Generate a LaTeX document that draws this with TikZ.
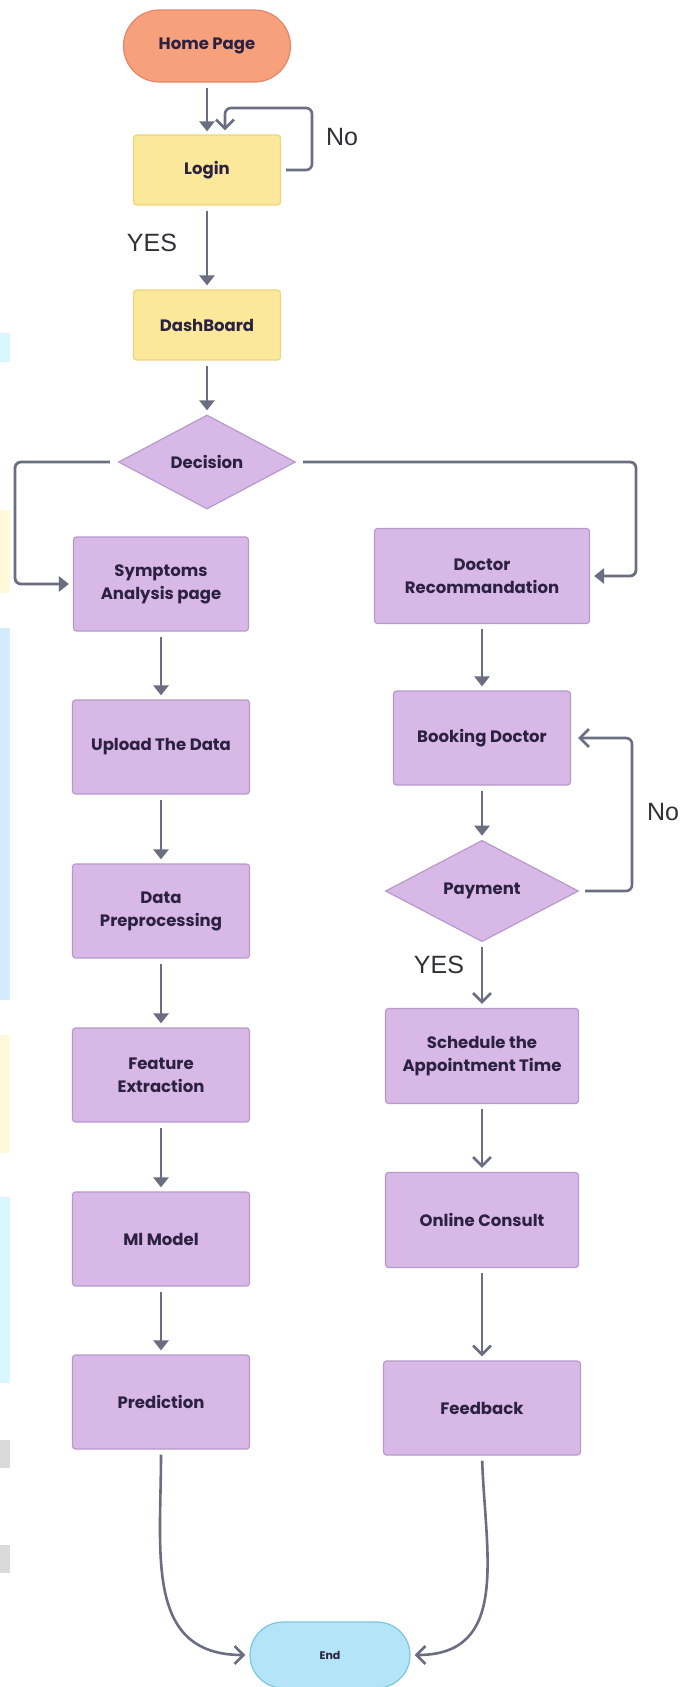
\documentclass[tikz,border=0pt]{standalone}
\usepackage{fontspec}
\setmainfont{Poppins}
\newfontfamily\lblfont{Liberation Sans}
\usepackage{xcolor}
\usetikzlibrary{arrows.meta,positioning,shapes.geometric}
\definecolor{homef}{HTML}{F7A07C}
\definecolor{homed}{HTML}{E3876A}
\definecolor{yelf}{HTML}{FBE89B}
\definecolor{yeld}{HTML}{EDD57F}
\definecolor{purf}{HTML}{D8B8E7}
\definecolor{purd}{HTML}{B79ACA}
\definecolor{endf}{HTML}{B4E4F8}
\definecolor{endd}{HTML}{7CC6E0}
\definecolor{arc}{HTML}{6B6D80}
\definecolor{txtc}{HTML}{2A2240}
\definecolor{lblc}{HTML}{303036}
\definecolor{edgeb}{HTML}{D2ECFB}
\definecolor{edgec}{HTML}{D9F7FE}
\definecolor{edgey}{HTML}{FFF9DA}
\definecolor{edgeg}{HTML}{DADADA}
\tikzset{
  ar/.style={-{Triangle[length=10pt,width=15pt]},line width=2.8pt,arc,shorten <=5pt,shorten >=4pt},
  arv/.style={-{Straight Barb[length=9pt,width=18pt]},line width=2.6pt,arc,shorten <=5pt,shorten >=4pt},
  nd/.style={font=\fontsize{16.5}{23}\selectfont\bfseries,text=txtc,align=center,line width=1.2pt,inner sep=2pt},
  box/.style={nd,draw=purd,fill=purf,rounded corners=3pt,minimum width=177pt,minimum height=94pt},
  ybox/.style={nd,draw=yeld,fill=yelf,rounded corners=3pt,minimum width=147pt,minimum height=70pt},
  dia/.style={nd,diamond,draw=purd,fill=purf,minimum width=177pt,minimum height=94pt},
  lbl/.style={font=\lblfont\fontsize{25}{28}\selectfont,text=lblc}
}
\begin{document}
\begin{tikzpicture}[x=1pt,y=-1pt]
\useasboundingbox (0,0) rectangle (690,1687);
\clip (0,0) rectangle (690,1687);
% background bits at the left edge
\fill[edgec] (0,333) rectangle (10,362);
\fill[edgey] (0,510) rectangle (10,593);
\fill[edgeb] (0,628) rectangle (10,1000);
\fill[edgey] (0,1035) rectangle (10,1153);
\fill[edgec] (0,1197) rectangle (10,1383);
\fill[edgeg] (0,1440) rectangle (10,1468);
\fill[edgeg] (0,1545) rectangle (10,1573);
% top part
\node[nd,draw=homed,fill=homef,rounded corners=36pt,minimum width=167pt,minimum height=72pt] (home) at (207,46) {Home Page};
\node[ybox] (login) at (207,170) {Login};
\node[ybox] (dash) at (207,325) {DashBoard};
\node[dia] (dec) at (207,462) {Decision};
% left branch
\node[box,minimum width=175pt] (symp) at (161,584) {Symptoms\\Analysis page};
\node[box] (upload) at (161,747) {Upload The Data};
\node[box] (prep) at (161,911) {Data\\Preprocessing};
\node[box] (feat) at (161,1075) {Feature\\Extraction};
\node[box] (ml) at (161,1239) {Ml Model};
\node[box] (pred) at (161,1402) {Prediction};
% right branch
\node[box,minimum width=215pt,minimum height=95pt] (doc) at (482,576) {Doctor\\Recommandation};
\node[box] (book) at (482,738) {Booking Doctor};
\node[dia,minimum width=193pt] (pay) at (482,891) {Payment};
\node[box,minimum width=193pt,minimum height=95pt] (sched) at (482,1056) {Schedule the\\Appointment Time};
\node[box,minimum width=193pt,minimum height=95pt] (online) at (482,1220) {Online Consult};
\node[box,minimum width=197pt] (feed) at (482,1408) {Feedback};
\node[nd,draw=endd,fill=endf,rounded corners=33pt,minimum width=160pt,minimum height=66pt,font=\fontsize{11}{13}\selectfont\bfseries] (end) at (330,1655) {End};
\coordinate (lpt) at (312,108);
\coordinate (lft) at (15,0);
\coordinate (rgt) at (636,0);
\coordinate (ppt) at (632,0);
% connectors
\draw[ar,shorten >=3pt] (home) -- (login);
\draw[arv,rounded corners=6pt] (login.east) -| (lpt) -| ([xshift=18pt]login.north);
\draw[ar] (login) -- (dash);
\draw[ar] (dash) -- (dec);
\draw[ar,rounded corners=6pt,shorten <=8pt] (dec.west) -| (lft |- symp.west) -- (symp.west);
\draw[ar,rounded corners=6pt,shorten <=7pt] (dec.east) -| (rgt |- doc.east) -- (doc.east);
\foreach \a/\b in {symp/upload,upload/prep,prep/feat,feat/ml,ml/pred,doc/book,book/pay}
  \draw[ar] (\a) -- (\b);
\draw[arv,rounded corners=6pt,shorten <=6pt,shorten >=7pt] (pay.east) -| (ppt |- book.east) -- (book.east);
\draw[arv] (pay) -- (sched);
\draw[arv] (sched) -- (online);
\draw[arv] (online) -- (feed);
\draw[arv] (pred.south) to[out=-90,in=180,looseness=1.2] (end.west);
\draw[arv] (feed.south) to[out=-88,in=0,looseness=1.2] (end.east);
% labels
\node[lbl] (no1) at (342,137) {No};
\node[lbl] (yes1) at (152,243) {YES};
\node[lbl] (no2) at (663,812) {No};
\node[lbl] (yes2) at (439,965) {YES};
\end{tikzpicture}
\end{document}
